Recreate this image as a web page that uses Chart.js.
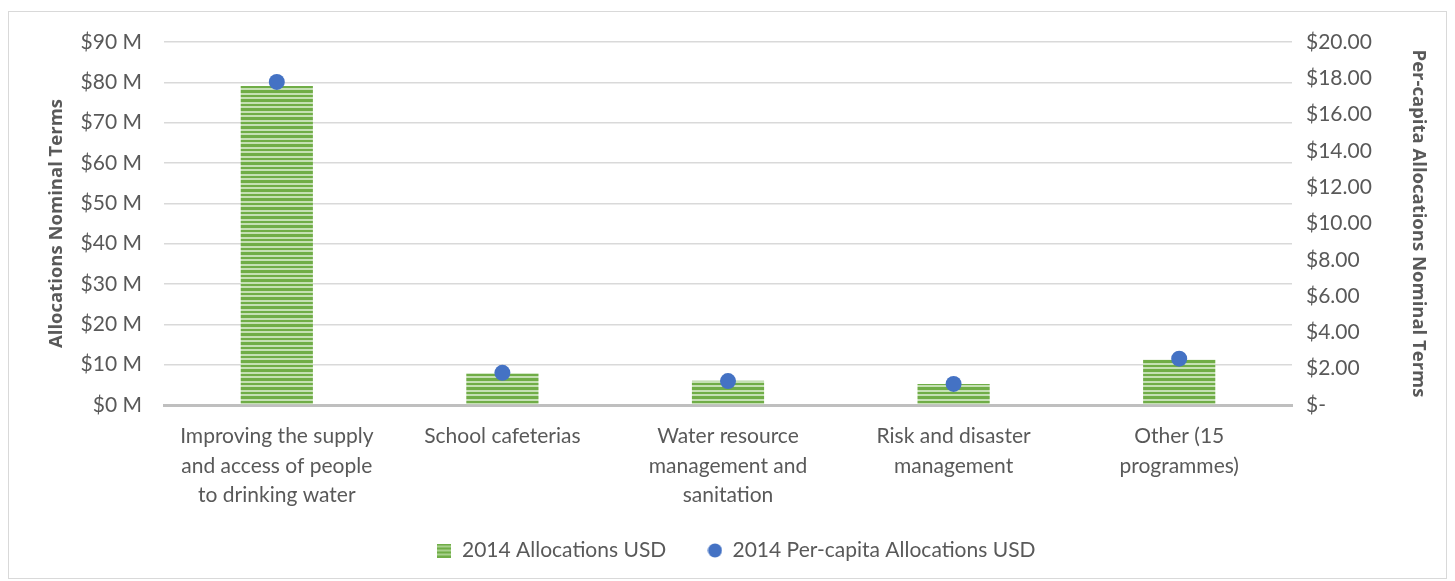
<!DOCTYPE html>
<html>
<head>
<meta charset="utf-8">
<script src="https://cdn.jsdelivr.net/npm/chart.js@4"></script>
<style>
  html, body { margin: 0; padding: 0; background: #fff; }
  #frame { position: absolute; left: 8px; top: 11px; width: 1439px; height: 568px; border: 1px solid #d9d9d9; box-sizing: border-box; }
  #wrap { position: absolute; left: 0; top: 0; width: 1455px; height: 581px; }
</style>
</head>
<body>
<div id="frame"></div>
<div id="wrap"><canvas id="waterChart" width="1455" height="581"></canvas></div>
<script>
// categories and values
const categories = [
    ["Improving the supply", "and access of people", "to drinking water"],
    ["School cafeterias"],
    ["Water resource", "management and", "sanitation"],
    ["Risk and disaster", "management"],
    ["Other (15", "programmes)"]
];
const allocations = [79.1, 7.9, 6.0, 5.2, 11.2];      // $ M
const perCapita = [17.8, 1.77, 1.32, 1.16, 2.55];     // $
const leftTicks = [0, 10, 20, 30, 40, 50, 60, 70, 80, 90];
const rightTicks = [0, 2, 4, 6, 8, 10, 12, 14, 16, 18, 20];

// striped green fill like the excel pattern
function paintStripes(g, w, h) {
    g.fillStyle = "#c5e0b4";
    g.fillRect(0, 0, w, h);
    g.fillStyle = "#70ad47";
    for (let y = 0; y < h; y += 9) {
        g.fillRect(0, y, w, 3);
        g.fillRect(0, y + 5, w, 2);
    }
}
function makeStripes() {
    const c = document.createElement("canvas");
    c.width = 8; c.height = 9;
    const g = c.getContext("2d");
    paintStripes(g, 8, 9);
    return g.createPattern(c, "repeat");
}
// legend markers
function squareMarker() {
    const c = document.createElement("canvas");
    c.width = 14; c.height = 14;
    const g = c.getContext("2d");
    g.fillStyle = "#70ad47";
    g.fillRect(0, 0, 14, 14);
    g.fillStyle = "#a9d18e";
    [2, 6, 10].forEach(y => g.fillRect(0, y, 14, 2));
    return c;
}
function dotMarker() {
    const c = document.createElement("canvas");
    c.width = 15; c.height = 15;
    const g = c.getContext("2d");
    g.fillStyle = "#4472c4";
    g.beginPath();
    g.arc(7.5, 7.5, 7, 0, Math.PI * 2);
    g.fill();
    return c;
}

const ctx = document.getElementById("waterChart").getContext("2d");
const stripes = makeStripes();
const font = "Lato, 'Open Sans', sans-serif";
const titleFont = "'Open Sans', 'Liberation Sans', sans-serif";
const grey = "#595959";
const markers = { 0: dotMarker(), 1: squareMarker() };

new Chart(ctx, {
    type: "bar",
    data: {
        labels: categories,
        datasets: [
            {
                type: "line",
                label: "2014 Per-capita Allocations USD",
                data: perCapita,
                yAxisID: "y1",
                showLine: false,
                pointRadius: 8,
                pointHoverRadius: 8,
                pointStyle: "circle",
                backgroundColor: "#4472c4",
                borderColor: "#4472c4",
                borderWidth: 0,
                order: 0
            },
            {
                label: "2014 Allocations USD",
                data: allocations,
                yAxisID: "y",
                backgroundColor: stripes,
                borderWidth: 0,
                barPercentage: 0.32,
                categoryPercentage: 1,
                order: 1
            }
        ]
    },
    options: {
        responsive: false,
        animation: false,
        devicePixelRatio: 1,
        layout: { padding: { left: 40, right: 22, top: 42, bottom: 10 } },
        plugins: {
            tooltip: { enabled: false },
            legend: {
                position: "bottom",
                reverse: true,
                labels: {
                    font: { family: font, size: 21 },
                    color: grey,
                    usePointStyle: true,
                    boxWidth: 14,
                    boxHeight: 14,
                    padding: 26,
                    generateLabels(chart) {
                        const items = Chart.defaults.plugins.legend.labels.generateLabels(chart);
                        items.forEach(it => {
                            it.pointStyle = markers[it.datasetIndex];
                            it.lineWidth = 0;
                            // a bit more room between the two entries
                            if (it.datasetIndex === 1) it.text += "\u2003";
                        });
                        return items;
                    }
                }
            }
        },
        scales: {
            x: {
                afterFit: axis => { axis.height = 109; },
                grid: { display: false, drawTicks: false },
                border: { color: "#bfbfbf", width: 3 },
                ticks: {
                    font: { family: font, size: 21, lineHeight: 1.4 },
                    color: grey,
                    padding: 17,
                    maxRotation: 0,
                    autoSkip: false
                }
            },
            y: {
                position: "left",
                min: 0, max: 90,
                afterFit: axis => { axis.width = 124; },
                afterBuildTicks: axis => { axis.ticks = leftTicks.map(v => ({ value: v })); },
                grid: { color: "#d9d9d9", lineWidth: 1.5, drawTicks: false },
                border: { display: false },
                ticks: {
                    font: { family: font, size: 21 },
                    color: grey,
                    padding: 22,
                    callback: v => "$" + v + " M"
                },
                title: {
                    display: true,
                    text: "Allocations Nominal Terms",
                    font: { family: titleFont, size: 18.5, weight: "bold" },
                    color: grey,
                    padding: 6
                }
            },
            y1: {
                position: "right",
                min: 0, max: 20,
                afterFit: axis => { axis.width = 141; },
                afterBuildTicks: axis => { axis.ticks = rightTicks.map(v => ({ value: v })); },
                grid: { display: false, drawTicks: false },
                border: { display: false },
                ticks: {
                    font: { family: font, size: 21 },
                    color: grey,
                    padding: 14,
                    callback: v => v === 0 ? "$-" : "$" + v.toFixed(2)
                },
                title: {
                    display: true,
                    text: "Per-capita Allocations Nominal Terms",
                    font: { family: titleFont, size: 18.5, weight: "bold" },
                    color: grey,
                    padding: 4
                }
            }
        }
    }
});
</script>
</body>
</html>
